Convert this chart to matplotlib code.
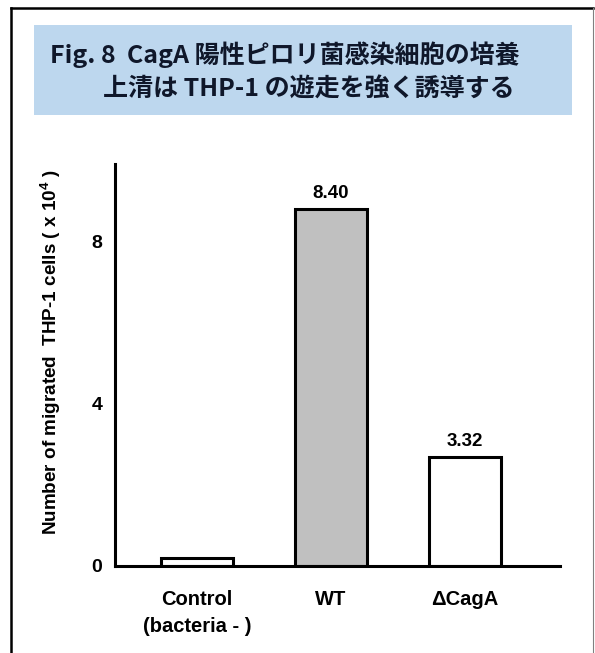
import matplotlib
matplotlib.use('Agg')
from matplotlib import pyplot as plt
from matplotlib.patches import Rectangle
from matplotlib.lines import Line2D

# values
groups = ['Control\n(bacteria - )', 'WT', '\u0394CagA']
heights = [0.2, 8.79, 2.69]
value_labels = ['', '8.40', '3.32']
fills = ['white', '#c0c0c0', 'white']
yticks = [0, 4, 8]

title1 = 'Fig. 8  CagA 陽性ピロリ菌感染細胞の培養'
title2 = '上清は THP-1 の遊走を強く誘導する'
ylabel = 'Number of migrated  THP-1 cells ( x 10$^4$ )'

plt.rcParams['font.family'] = ['Liberation Sans', 'DejaVu Sans']
plt.rcParams['font.weight'] = 'bold'
plt.rcParams['mathtext.fontset'] = 'custom'
plt.rcParams['mathtext.rm'] = 'Liberation Sans:bold'
plt.rcParams['mathtext.default'] = 'rm'

fig = plt.figure(figsize=(5.95, 6.53), dpi=100)

# outer frame: black top and left, grey thin right
fig.add_artist(Line2D([10.5 / 595, 593 / 595], [1 - 7.5 / 653, 1 - 7.5 / 653],
                      color='black', lw=1.8, transform=fig.transFigure))
fig.add_artist(Line2D([10.5 / 595, 10.5 / 595], [0, 1 - 7.5 / 653],
                      color='black', lw=1.8, transform=fig.transFigure))
fig.add_artist(Line2D([593 / 595, 593 / 595], [0, 1 - 7.5 / 653],
                      color='#808080', lw=0.8, transform=fig.transFigure))

# title box
fig.add_artist(Rectangle((34 / 595, 1 - 115 / 653), (572 - 34) / 595, 90 / 653,
                         facecolor='#bdd7ee', edgecolor='none',
                         transform=fig.transFigure))
tfam = ['Noto Sans CJK JP', 'DejaVu Sans']
fig.text(50 / 595, 1 - 55 / 653, title1, fontsize=18, fontweight='bold',
         family=tfam, color='#0f172a', va='center', ha='left')
fig.text(103 / 595, 1 - 89 / 653, title2, fontsize=18, fontweight='bold',
         family=tfam, color='#0f172a', va='center', ha='left')

ax = fig.add_axes([115 / 595, 1 - 565.7 / 653, (560 - 115) / 595, (565.7 - 164) / 653])
x = list(range(len(groups)))
bars = ax.bar(x, heights, width=0.54, color=fills, edgecolor='black', linewidth=2.2)
for b, lab in zip(bars, value_labels):
    if lab:
        ax.annotate(lab, (b.get_x() + b.get_width() / 2, b.get_height()),
                    xytext=(0, 5), textcoords='offset points',
                    ha='center', va='bottom', fontsize=13.5, fontweight='bold')

ax.set_xlim(-0.61, 2.71)
ax.set_ylim(0, 9.9)
ax.set_yticks(yticks)
ax.set_xticks(x)
ax.set_xticklabels(groups, fontsize=14.5, fontweight='bold', linespacing=1.55)
ax.tick_params(axis='y', length=0, pad=9, labelsize=14)
ax.tick_params(axis='x', length=0, pad=17.5)
for s in ['top', 'right']:
    ax.spines[s].set_visible(False)
for s in ['left', 'bottom']:
    ax.spines[s].set_linewidth(2.2)
ax.set_ylabel(ylabel, fontsize=13.6, fontweight='bold')
ax.yaxis.set_label_coords(-0.117, 0.532)

fig.savefig('out.png', dpi=100)
